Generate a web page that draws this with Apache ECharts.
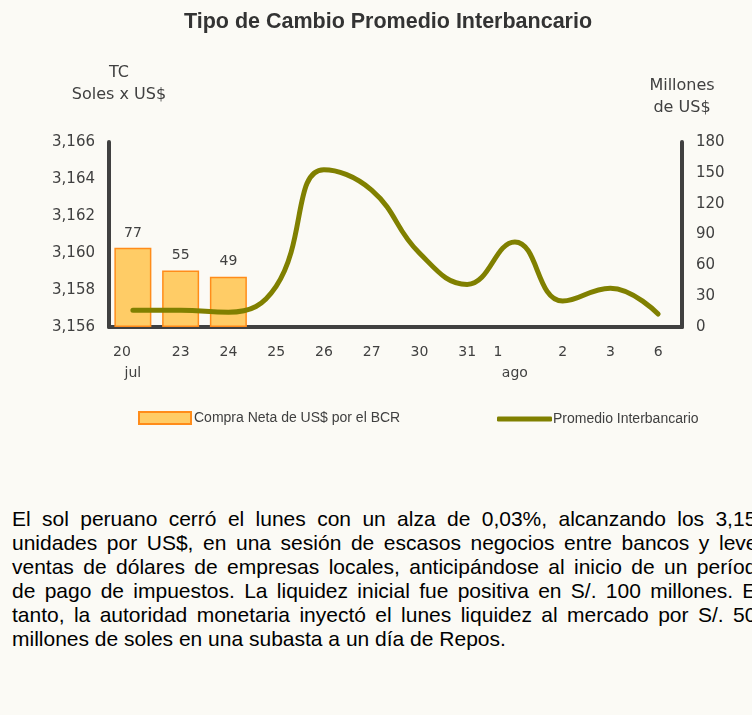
<!DOCTYPE html>
<html>
<head>
<meta charset="utf-8">
<script src="https://cdn.jsdelivr.net/npm/echarts@6/dist/echarts.min.js"></script>
<style>
    html, body { margin: 0; padding: 0; background: #fbfaf5; overflow: hidden; }
    #wrap { position: relative; width: 752px; height: 715px; overflow: hidden; }
    #chart { position: absolute; left: 0; top: 0; width: 752px; height: 470px; }
    #nota { position: absolute; left: 12px; top: 507px; width: 756px;
        font-family: "Liberation Sans", Arial, sans-serif;
        font-size: 21px; line-height: 24px; color: #000; }
    #nota div { text-align: justify; text-align-last: justify; white-space: nowrap; }
    #nota div.ult { text-align-last: left; }
</style>
</head>
<body>
<div id="wrap">
    <div id="chart"></div>
    <div id="nota"></div>
</div>
<script>
// dias (jul - ago)
var dias = ['20', '23', '24', '25', '26', '27', '30', '31', '1', '2', '3', '6'];
var meses = ['jul', '', '', '', '', '', '', '', 'ago', '', '', ''];
// Compra neta de US$ por el BCR (millones)
var compraNeta = [77, 55, 49, null, null, null, null, null, null, null, null, null];
// Promedio interbancario (soles x US$)
var promedio = [3.1569, 3.1569, 3.1568, 3.1582, 3.1645, 3.1634, 3.1600, 3.1583, 3.1606, 3.1574, 3.1581, 3.1567];

var lineas = [
    'El sol peruano cerró el lunes con un alza de 0,03%, alcanzando los 3,156',
    'unidades por US$, en una sesión de escasos negocios entre bancos y leves',
    'ventas de dólares de empresas locales, anticipándose al inicio de un período',
    'de pago de impuestos. La liquidez inicial fue positiva en S/. 100 millones. En',
    'tanto, la autoridad monetaria inyectó el lunes liquidez al mercado por S/. 507',
    'millones de soles en una subasta a un día de Repos.'
];

var nota = document.getElementById('nota');
lineas.forEach(function(t, i) {
    var d = document.createElement('div');
    d.textContent = t;
    if (i == lineas.length - 1) d.className = 'ult';
    nota.appendChild(d);
});

var fuente = 'DejaVu Sans';
var gris = '#404040';
// estilo de espacio a la derecha del numero de dia (lo corre a la izquierda)
var corrimiento = { '20': 's20', '1': 's1' };

var myChart = echarts.init(document.getElementById('chart'));
option = {
    backgroundColor: '#fbfaf5',
    title: {
        text: 'Tipo de Cambio Promedio Interbancario',
        left: 383,
        top: 6,
        textAlign: 'center',
        textStyle: {
            fontFamily: 'Liberation Sans',
            fontWeight: 'bold',
            fontSize: 21.5,
            color: '#333'
        }
    },
    legend: [{
        left: 133,
        top: 406,
        itemWidth: 52,
        itemHeight: 12,
        data: [{ name: 'Compra Neta de US$ por el BCR', icon: 'rect' }],
        textStyle: {
            fontFamily: 'Liberation Sans',
            fontSize: 14,
            color: gris,
            padding: [0, 0, 0, -2]
        }
    }, {
        left: 492,
        top: 407,
        itemWidth: 55,
        itemHeight: 5,
        data: [{ name: 'Promedio Interbancario', icon: 'roundRect' }],
        textStyle: {
            fontFamily: 'Liberation Sans',
            fontSize: 14,
            color: gris,
            padding: [0, 0, 0, -4]
        }
    }],
    grid: {
        left: 109,
        right: 70,
        top: 142,
        bottom: 143
    },
    xAxis: {
        type: 'category',
        data: dias,
        axisLine: {
            lineStyle: { color: gris, width: 4, cap: 'round' }
        },
        axisTick: { show: false },
        axisLabel: {
            interval: 0,
            margin: 15,
            formatter: function(value, idx) {
                var s = '{d|' + value + '}';
                if (corrimiento[value]) s += '{' + corrimiento[value] + '| }';
                if (meses[idx]) s += '\n{m|' + meses[idx] + '}';
                return s;
            },
            rich: {
                d: { fontFamily: fuente, fontSize: 14, color: gris, lineHeight: 21 },
                s20: { fontFamily: fuente, fontSize: 14, width: 22, lineHeight: 21 },
                s1: { fontFamily: fuente, fontSize: 14, width: 34, lineHeight: 21 },
                m: { fontFamily: fuente, fontSize: 14, color: gris, lineHeight: 21 }
            }
        }
    },
    yAxis: [{
        type: 'value',
        min: 3.156,
        max: 3.166,
        interval: 0.002,
        name: 'TC\nSoles x US$',
        nameLocation: 'end',
        nameGap: 36,
        nameTextStyle: {
            fontFamily: fuente,
            fontSize: 16,
            color: gris,
            lineHeight: 22,
            padding: [0, 0, 0, 20]
        },
        axisLine: {
            show: true,
            lineStyle: { color: gris, width: 4, cap: 'round' }
        },
        axisTick: { show: false },
        splitLine: { show: false },
        axisLabel: {
            margin: 14,
            fontFamily: fuente,
            fontSize: 15,
            color: gris,
            formatter: function(v) {
                return v.toFixed(3).replace('.', ',');
            }
        }
    }, {
        type: 'value',
        min: 0,
        max: 180,
        interval: 30,
        name: 'Millones\nde US$',
        nameLocation: 'end',
        nameGap: 23,
        nameTextStyle: {
            fontFamily: fuente,
            fontSize: 16,
            color: gris,
            lineHeight: 22
        },
        axisLine: {
            show: true,
            lineStyle: { color: gris, width: 4, cap: 'round' }
        },
        axisTick: { show: false },
        splitLine: { show: false },
        axisLabel: {
            margin: 14,
            fontFamily: fuente,
            fontSize: 15,
            color: gris
        }
    }],
    series: [{
        name: 'Compra Neta de US$ por el BCR',
        type: 'bar',
        yAxisIndex: 1,
        data: compraNeta,
        barWidth: 37,
        itemStyle: {
            color: '#ffcc66',
            borderColor: '#ff8c1a',
            borderWidth: 1.5
        },
        label: {
            show: true,
            position: 'top',
            distance: 8,
            fontFamily: fuente,
            fontSize: 14,
            color: gris
        }
    }, {
        name: 'Promedio Interbancario',
        type: 'line',
        yAxisIndex: 0,
        data: promedio,
        smooth: 0.45,
        symbol: 'none',
        lineStyle: { color: '#808000', width: 5, cap: 'round' },
        itemStyle: { color: '#808000' }
    }]
};
myChart.setOption(option);
</script>
</body>
</html>
